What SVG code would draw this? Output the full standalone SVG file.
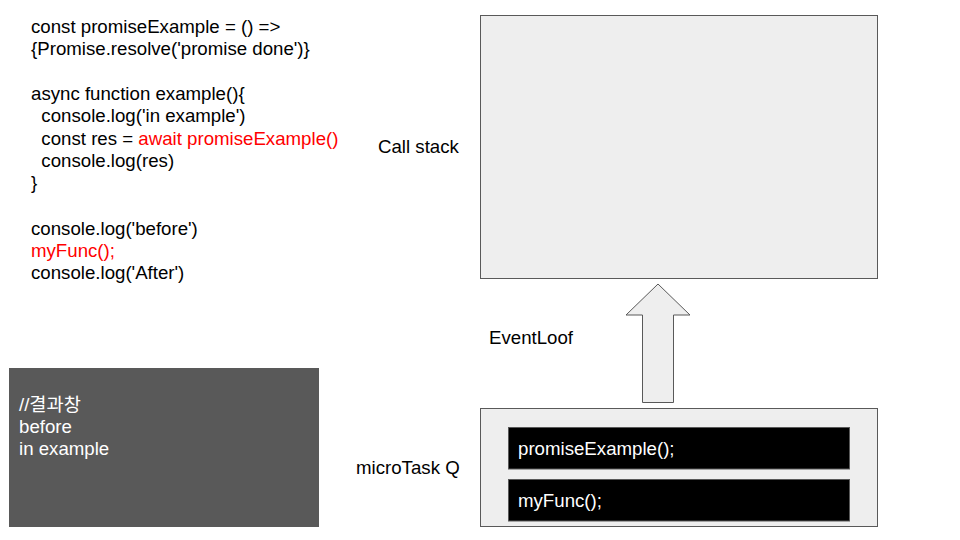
<svg xmlns="http://www.w3.org/2000/svg" width="960" height="540" viewBox="0 0 960 540">
<style>
text{font-family:"Liberation Sans",Arial,"Noto Sans CJK KR",sans-serif;font-size:18.67px;fill:#000}
.red{fill:#ff0000}
.wt{fill:#ffffff}
.panel{fill:#eeeeee;stroke:#595959;stroke-width:1}
.item{fill:#000000;stroke:#595959;stroke-width:1}
</style>
<rect width="960" height="540" fill="#ffffff"/>
<g id="code">
<text x="31" y="33">const promiseExample = () =&gt;</text>
<text x="31" y="55">{Promise.resolve('promise done')}</text>
<text x="31" y="100">async function example(){</text>
<text x="31" y="122" xml:space="preserve">  console.log('in example')</text>
<text x="31" y="145" xml:space="preserve">  const res = <tspan class="red">await promiseExample()</tspan></text>
<text x="31" y="167" xml:space="preserve">  console.log(res)</text>
<text x="31" y="189">}</text>
<text x="31" y="235">console.log('before')</text>
<text x="31" y="257" class="red">myFunc();</text>
<text x="31" y="279">console.log('After')</text>
</g>
<g id="result">
<rect x="9" y="368" width="310" height="159" fill="#595959"/>
<text x="19" y="411" class="wt">//결과창</text>
<text x="19" y="433" class="wt">before</text>
<text x="19" y="455" class="wt">in example</text>
</g>
<g id="callstack">
<rect class="panel" x="480.5" y="15.5" width="397" height="263"/>
<text x="378" y="153">Call stack</text>
</g>
<g id="connectors">
<polygon class="panel" points="658,284 690,315 673.5,315 673.5,402.5 642.5,402.5 642.5,315 626,315"/>
<text x="489" y="344">EventLoof</text>
</g>
<g id="microtask">
<rect class="panel" x="480.5" y="408.5" width="397" height="118"/>
<text x="356" y="474">microTask Q</text>
<g id="item1">
<rect class="item" x="508.5" y="427.5" width="341" height="41.5"/>
<text x="518" y="455" class="wt">promiseExample();</text>
</g>
<g id="item2">
<rect class="item" x="508.5" y="479.5" width="341" height="41.5"/>
<text x="518" y="507" class="wt">myFunc();</text>
</g>
</g>
</svg>
